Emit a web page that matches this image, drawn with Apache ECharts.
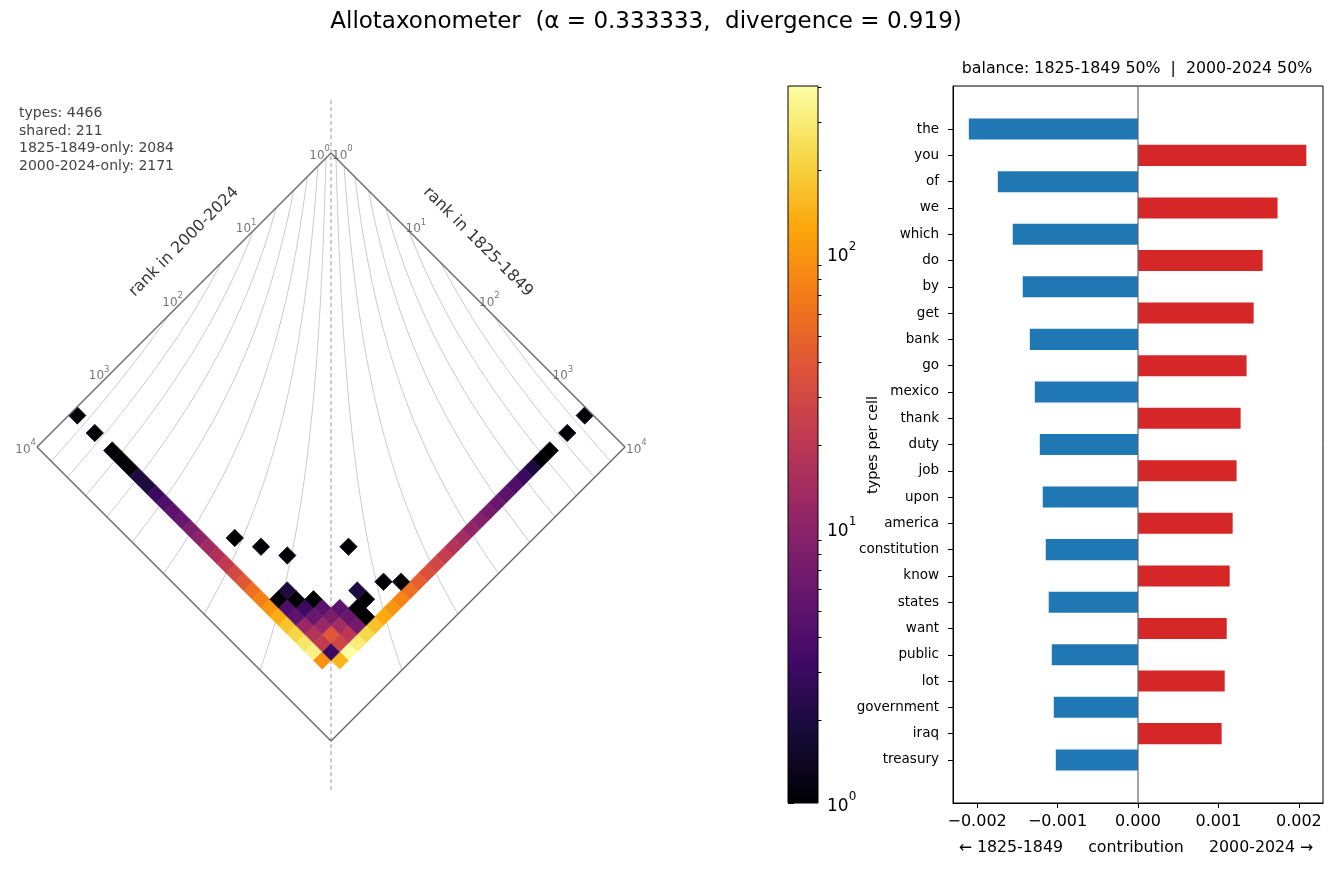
<!DOCTYPE html>
<html><head><meta charset="utf-8">
<script src="https://cdn.jsdelivr.net/npm/echarts@6/dist/echarts.min.js"></script>
<style>html,body{margin:0;padding:0;background:#fff}#c{width:1336px;height:871px}</style>
</head><body><div id="c"></div>
<script>
// ---------------- data ----------------
const words = ["the","you","of","we","which","do","by","get","bank","go","mexico","thank","duty","job","upon","america","constitution","know","states","want","public","lot","government","iraq","treasury"];
const contributions = [-0.002103,0.002093,-0.001743,0.001735,-0.001557,0.00155,-0.001433,0.001438,-0.001345,0.00135,-0.001283,0.001276,-0.001221,0.001226,-0.001184,0.001177,-0.001147,0.00114,-0.00111,0.001103,-0.001072,0.001078,-0.001047,0.00104,-0.001022];
// cells: i = log-rank bin in 1825-1849, j = log-rank bin in 2000-2024 (30 bins)
const leftArmCounts = [1,0,1,0,1,1,1,2,2,3,4,5,6,8,10,13,17,22,30,40,58,75,100,135,175,220,280,330,95];   // j = 29
const rightArmCounts = [1,0,1,0,1,1,2,3,4,5,6,7,9,11,14,18,23,29,36,46,60,78,100,130,170,230,300,405,150]; // i = 29
const sharedCells = [
  [28,28,3],
  [27,28,22],[28,27,28],
  [26,28,18],[27,27,40],[28,26,20],
  [25,28,12],[26,27,12],[27,26,14],[28,25,7],
  [24,28,5],[25,27,6],[26,26,8],[27,25,6],[28,24,1],
  [23,28,4],[24,27,3],[25,26,5],[26,25,5],[27,24,1],
  [22,28,1],[23,27,1],[24,26,1],[27,23,1],
  [22,27,2],[26,23,2],
  [27,21,1],[28,20,1],
  [16,27,1],[18,26,1],[20,25,1],[23,21,1]
];
const rankTickExps = [0,1,2,3,4];
const stats = ["types: 4466","shared: 211","1825-1849-only: 2084","2000-2024-only: 2171"];
const ALPHA = 1/3;
const NBINS = 30;
const BINMAX = 3.5714;      // log10 extent covered by the 30 bins
const CBAR_MAX = 405;
const CBAR_MAJOR = [1,10,100];
const CBAR_MINOR = [2,3,4,5,6,7,8,9,20,30,40,50,60,70,80,90,200,300,400];
const XTICKS = [-0.002,-0.001,0,0.001,0.002];

// ---------------- helpers ----------------
const INFERNO = ['#000004','#160b39','#420a68','#6a176e','#932667','#bc3754','#dd513a','#f37819','#fca50a','#f6d746','#fcffa4'];
const FONT = 'DejaVu Sans';
const BIN = BINMAX / NBINS;
const APEX_X = 331, APEX_Y = 153, PX = 73.5;

const cellData = [];
leftArmCounts.forEach((c,i)=>{ if(c>0) cellData.push([0,0,Math.log10(c),i,29]); });
rightArmCounts.forEach((c,j)=>{ if(c>0) cellData.push([0,0,Math.log10(c),29,j]); });
sharedCells.forEach(([i,j,c])=>cellData.push([0,0,Math.log10(c),i,j]));
cellData.forEach(d=>{ const u=(d[3]+0.5)*BIN, v=(d[4]+0.5)*BIN; d[0]=u-v; d[1]=u+v; });

// contour lines of rank-turbulence divergence
const Dmax = Math.pow(1 - Math.pow(10,-4*ALPHA), 1/(ALPHA+1));
const contourSeries = [];
for (let k=1;k<=8;k++){
  const c = Math.pow(k*Dmax/9, ALPHA+1);
  const v0 = -Math.log10(1-c)/ALPHA;
  const ptsL=[], ptsR=[];
  const N=200;
  for (let n=0;n<=N;n++){
    const v = v0 + (4-v0)*n/N;
    const u = -Math.log10(c + Math.pow(10,-ALPHA*v))/ALPHA;
    ptsL.push([u-v,u+v]); ptsR.push([v-u,u+v]);
  }
  [ptsL,ptsR].forEach(p=>contourSeries.push({type:'line',xAxisIndex:0,yAxisIndex:0,data:p,showSymbol:false,silent:true,
    lineStyle:{color:'#c8c8c8',width:1},z:1}));
}

const supRich = (base, sup, color) => ({
  b:{fontSize:base,color,fontFamily:FONT,lineHeight:Math.round(base*1.45),verticalAlign:'bottom'},
  s:{fontSize:sup,color,fontFamily:FONT,lineHeight:sup,verticalAlign:'top'}
});

const tickLabelData = [];
rankTickExps.forEach(m=>{
  tickLabelData.push({value:[-m,m],label:{position:'left',distance:1}, name:String(m)});
  tickLabelData.push({value:[m,m],label:{position:'right',distance:1}, name:String(m)});
});

const chart = echarts.init(document.getElementById('c'), null, {renderer:'canvas'});
const option = {
  animation:false,
  textStyle:{fontFamily:FONT},
  grid:[
    {left:APEX_X-4.5*PX, top:APEX_Y-PX, width:9*PX, height:10*PX},
    {left:788, top:86, width:30, height:717, show:true, borderColor:'#000', borderWidth:1, backgroundColor:'transparent', z:5},
    {left:953, top:86, width:370, height:717, show:true, borderColor:'#000', borderWidth:1, backgroundColor:'transparent'}
  ],
  xAxis:[
    {gridIndex:0,type:'value',min:-4.5,max:4.5,show:false},
    {gridIndex:1,type:'value',min:0,max:1,show:false},
    {gridIndex:2,type:'value',min:-0.0023,max:0.0023,
      axisLine:{show:true,onZero:false,lineStyle:{color:'#000'}},splitLine:{show:false},
      axisTick:{show:true,length:5,customValues:XTICKS,lineStyle:{color:'#000'}},
      axisLabel:{customValues:XTICKS,fontSize:16,color:'#000',margin:11,fontFamily:FONT,
        formatter:v=>(v<0?'\u2212':'')+Math.abs(v).toFixed(3)}}
  ],
  yAxis:[
    {gridIndex:0,type:'value',min:-1,max:9,inverse:true,show:false},
    {gridIndex:1,type:'log',logBase:10,min:1,max:CBAR_MAX,position:'right',
      axisLine:{show:false},splitLine:{show:false},
      axisTick:{show:true,length:6,customValues:CBAR_MAJOR,lineStyle:{color:'#000'}},
      axisLabel:{customValues:CBAR_MAJOR,margin:9,
        formatter:v=>'{b|10}{s|'+Math.round(Math.log10(v))+'}',rich:supRich(17,12,'#000')}},
    {gridIndex:1,type:'log',logBase:10,min:1,max:CBAR_MAX,position:'right',
      axisLine:{show:false},splitLine:{show:false},
      axisTick:{show:true,length:3.5,customValues:CBAR_MINOR,lineStyle:{color:'#000'}},
      axisLabel:{show:false}},
    {gridIndex:2,type:'value',min:-1.64,max:25.64,inverse:true,
      axisLine:{show:true,onZero:false,lineStyle:{color:'#000'}},splitLine:{show:false},
      axisTick:{show:true,length:5,customValues:words.map((w,i)=>i),lineStyle:{color:'#000'}},
      axisLabel:{customValues:words.map((w,i)=>i),fontSize:13.5,color:'#000',margin:14,fontFamily:FONT,
        formatter:v=>words[Math.round(v)]}}
  ],
  visualMap:{show:false,type:'continuous',seriesIndex:0,dimension:2,min:0,max:Math.log10(CBAR_MAX),inRange:{color:INFERNO}},
  series:[
    {type:'custom',xAxisIndex:0,yAxisIndex:0,z:3,data:cellData,
      renderItem:(params,api)=>{
        const i=api.value(3), j=api.value(4);
        const u0=i*BIN,u1=(i+1)*BIN,v0=j*BIN,v1=(j+1)*BIN;
        const pts=[[u0,v0],[u1,v0],[u1,v1],[u0,v1]].map(([u,v])=>api.coord([u-v,u+v]));
        const col=api.visual('color');
        return {type:'polygon',shape:{points:pts},style:{fill:col,stroke:col,lineWidth:0.6}};
      }},
    {type:'line',xAxisIndex:0,yAxisIndex:0,data:[[0,0],[4,4],[0,8],[-4,4],[0,0]],showSymbol:false,silent:true,
      lineStyle:{color:'#6e6e6e',width:1.5},z:4},
    {type:'line',xAxisIndex:0,yAxisIndex:0,data:[[0,-0.72],[0,8.67]],showSymbol:false,silent:true,
      lineStyle:{color:'#999',width:1,type:[4,3]},z:2},
    {type:'scatter',xAxisIndex:0,yAxisIndex:0,symbolSize:0,silent:true,data:tickLabelData,z:6,
      label:{show:true,formatter:p=>'{b|10}{s|'+p.name+'}',rich:supRich(12,8.5,'#555')}},
    {type:'scatter',xAxisIndex:0,yAxisIndex:0,symbolSize:0,silent:true,z:6,
      data:[{value:[-2,1.21],name:'rank in 2000-2024',label:{rotate:45}},{value:[2,1.21],name:'rank in 1825-1849',label:{rotate:-45}}],
      label:{show:true,position:'inside',formatter:p=>p.name,color:'#000',fontSize:16,fontFamily:FONT}},
    ...contourSeries,
    {type:'custom',xAxisIndex:1,yAxisIndex:1,z:2,data:[[0]],
      renderItem:(params,api)=>{
        const p0=api.coord([0,CBAR_MAX]), p1=api.coord([1,1]);
        return {type:'rect',shape:{x:p0[0],y:p0[1],width:p1[0]-p0[0],height:p1[1]-p0[1]},
          style:{fill:new echarts.graphic.LinearGradient(0,1,0,0,INFERNO.map((c,k)=>({offset:k/(INFERNO.length-1),color:c})))}};
      }},
    {type:'custom',xAxisIndex:2,yAxisIndex:3,z:3,data:contributions.map((v,i)=>[v,i]),
      renderItem:(params,api)=>{
        const v=api.value(0), i=api.value(1);
        const a=api.coord([0,i-0.4]), b=api.coord([v,i+0.4]);
        return {type:'rect',shape:{x:Math.min(a[0],b[0]),y:a[1],width:Math.abs(b[0]-a[0]),height:b[1]-a[1]},
          style:{fill:v<0?'#1f77b4':'#d62728'}};
      }},
    {type:'line',xAxisIndex:2,yAxisIndex:3,data:[[0,-1.64],[0,25.64]],showSymbol:false,silent:true,
      lineStyle:{color:'#666',width:1.2},z:4}
  ],
  graphic:[
    {type:'text',x:646,y:22,style:{text:'Allotaxonometer  (\u03b1 = 0.333333,  divergence = 0.919)',fontSize:23,fontFamily:FONT,fill:'#000',align:'center',verticalAlign:'middle'}},
    {type:'text',x:19,y:105,style:{text:stats.join('\n'),fontSize:14,lineHeight:17.4,fontFamily:FONT,fill:'#444',align:'left',verticalAlign:'top'}},
    {type:'text',x:1137,y:69,style:{text:'balance: 1825-1849 50%  |  2000-2024 50%',fontSize:15.8,fontFamily:FONT,fill:'#000',align:'center',verticalAlign:'middle'}},
    {type:'text',x:1136,y:848,style:{text:'\u2190 1825-1849     contribution     2000-2024 \u2192',fontSize:15.8,fontFamily:FONT,fill:'#000',align:'center',verticalAlign:'middle'}},
    {type:'text',x:873,y:445,rotation:Math.PI/2,style:{text:'types per cell',fontSize:14.5,fontFamily:FONT,fill:'#000',align:'center',verticalAlign:'middle'}}
  ]
};
chart.setOption(option);
</script></body></html>
